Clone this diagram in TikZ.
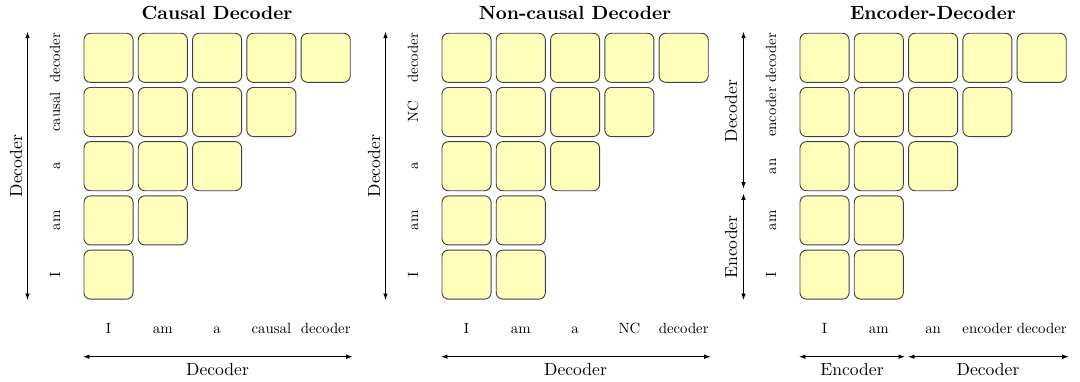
\documentclass[tikz,border=0pt]{standalone}
\usetikzlibrary{arrows.meta}
\definecolor{cellfill}{RGB}{255,255,188}

\begin{document}
\begin{tikzpicture}[x=0.54pt, y=-0.54pt]
   \tikzstyle{cell}=[draw=black!75, fill=cellfill, rounded corners=3.5pt, minimum size=26.5pt, inner sep=0pt, line width=0.5pt]
   \tikzstyle{tok}=[font=\normalsize, scale=0.8, inner sep=0pt]
   \tikzstyle{axis}=[font=\normalsize, scale=0.95, inner sep=0pt]
   \tikzstyle{title}=[font=\bfseries, scale=1.03, inner sep=0pt, anchor=base]
   \tikzstyle{span}=[{Latex[length=3.5pt,width=2.5pt]}-{Latex[length=3.5pt,width=2.5pt]}, line width=0.5pt]

\useasboundingbox (0,0) rectangle (1080,381);

% attention cells, row 0 is the top row
\foreach \p/\ox/\lst in {cd/84/{5,4,3,2,1}, nc/442/{5,4,3,2,2}, ed/800/{5,4,3,2,2}} {
    \foreach \n [count=\r from 0] in \lst {
        \foreach \c in {1,...,\n} {
            \node[cell] (\p-\r-\c) at ({\ox+24.5+54.3*(\c-1)}, {57.8+54.2*\r}) {};
        }
    }
}

% token labels on both axes
\foreach \p/\ox/\words in {cd/84/{I,am,a,causal,decoder}, nc/442/{I,am,a,NC,decoder}, ed/800/{I,am,an,encoder,decoder}} {
    \foreach \w [count=\i from 0] in \words {
        \node[tok, rotate=90, anchor=base] (\p-row-\i) at (\ox-24, {57.8+54.2*(4-\i)}) {\w};
        \node[tok, anchor=base] (\p-col-\i) at ({\ox+24.5+54.3*\i}, 333) {\w};
    }
}

% titles
\node[title] (cd-title) at (217, 19.5) {Causal Decoder};
\node[title] (nc-title) at (575, 19.5) {Non-causal Decoder};
\node[title] (ed-title) at (933, 19.5) {Encoder-Decoder};

% causal decoder axes
\coordinate (cd-vt) at (27.5, 31.7);
\coordinate (cd-vb) at (27.5, 300);
\coordinate (cd-hl) at (83, 356.7);
\coordinate (cd-hr) at (352.7, 356.7);
\draw[span] (cd-vt) -- (cd-vb);
\draw[span] (cd-hl) -- (cd-hr);
\node[axis, rotate=90, anchor=base] (cd-vlab) at (22, 166) {Decoder};
\node[axis, anchor=base] (cd-hlab) at (217.5, 375) {Decoder};

% non-causal decoder axes
\coordinate (nc-vt) at (385.5, 31.7);
\coordinate (nc-vb) at (385.5, 300);
\coordinate (nc-hl) at (441, 356.7);
\coordinate (nc-hr) at (710.7, 356.7);
\draw[span] (nc-vt) -- (nc-vb);
\draw[span] (nc-hl) -- (nc-hr);
\node[axis, rotate=90, anchor=base] (nc-vlab) at (380, 166) {Decoder};
\node[axis, anchor=base] (nc-hlab) at (575.5, 375) {Decoder};

% encoder-decoder axes
\coordinate (ed-vt) at (743.5, 31.7);
\coordinate (ed-vm1) at (743.5, 188.5);
\coordinate (ed-vm2) at (743.5, 193.5);
\coordinate (ed-vb) at (743.5, 300);
\coordinate (ed-hl) at (799, 356.7);
\coordinate (ed-hm1) at (905, 356.7);
\coordinate (ed-hm2) at (908, 356.7);
\coordinate (ed-hr) at (1068.7, 356.7);
\draw[span] (ed-vt) -- (ed-vm1);
\draw[span] (ed-vm2) -- (ed-vb);
\draw[span] (ed-hl) -- (ed-hm1);
\draw[span] (ed-hm2) -- (ed-hr);
\node[axis, rotate=90, anchor=base] (ed-vdec) at (737, 111) {Decoder};
\node[axis, rotate=90, anchor=base] (ed-venc) at (737, 247) {Encoder};
\node[axis, anchor=base] (ed-henc) at (852, 375) {Encoder};
\node[axis, anchor=base] (ed-hdec) at (988, 375) {Decoder};

\end{tikzpicture}
\end{document}
